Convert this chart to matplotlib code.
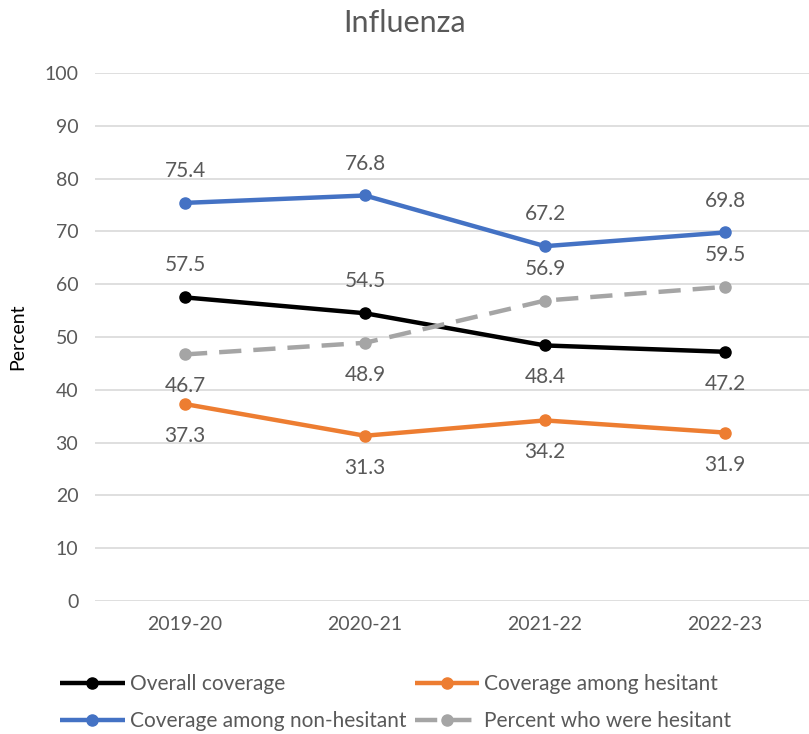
import matplotlib.pyplot as plt
import numpy as np

# Data
seasons = ["2019-20", "2020-21", "2021-22", "2022-23"]
overall = [57.5, 54.5, 48.4, 47.2]
hesitant_cov = [37.3, 31.3, 34.2, 31.9]
non_hesitant_cov = [75.4, 76.8, 67.2, 69.8]
pct_hesitant = [46.7, 48.9, 56.9, 59.5]

# label placement: +1 above, -1 below
overall_pos = [1, 1, -1, -1]
hesitant_pos = [-1, -1, -1, -1]
non_hesitant_pos = [1, 1, 1, 1]
pct_pos = [-1, -1, 1, 1]

plt.rcParams["font.family"] = ["Lato", "DejaVu Sans"]
text_color = "#595959"

fig = plt.figure(figsize=(8.09, 7.34), dpi=100)
ax = fig.add_axes([95 / 809, 133 / 734, 720 / 809, 528 / 734])

x = np.arange(len(seasons))
series = [
    (overall, overall_pos, "black", "-", "Overall coverage"),
    (hesitant_cov, hesitant_pos, "#ED7D31", "-", "Coverage among hesitant"),
    (non_hesitant_cov, non_hesitant_pos, "#4472C4", "-", "Coverage among non-hesitant"),
    (pct_hesitant, pct_pos, "#A5A5A5", (0, (5, 2.7)), "Percent who were hesitant"),
]

handles = {}
for vals, pos, color, ls, label in series:
    (h,) = ax.plot(x, vals, color=color, lw=3.2, ls=ls, marker="o", ms=8,
                   label=label, solid_capstyle="butt")
    handles[label] = h
    for xi, v, p in zip(x, vals, pos):
        ax.annotate(f"{v:.1f}", (xi, v), xytext=(0, 23 * p), textcoords="offset points",
                    ha="center", va="center", fontsize=15, color=text_color)

ax.set_xlim(-0.5, 3.5)
ax.set_ylim(0, 100)
ax.set_yticks(range(0, 101, 10))
ax.set_xticks(x)
ax.set_xticklabels(seasons)
ax.tick_params(length=0, labelsize=14, colors=text_color, pad=12)
ax.tick_params(axis="x", pad=11)
ax.grid(axis="y", color="#D9D9D9", lw=1.2)
ax.set_axisbelow(True)
for s in ax.spines.values():
    s.set_visible(False)
ax.set_ylabel("Percent", fontsize=14, color="black", labelpad=13)

fig.suptitle("Influenza", fontsize=22, color=text_color, y=0.988)

order = ["Overall coverage", "Coverage among non-hesitant",
         "Coverage among hesitant", "Percent who were hesitant"]
fig.legend([handles[k] for k in order], order, ncol=2, loc="lower left",
           bbox_to_anchor=(60 / 809, 3 / 734), borderaxespad=0, borderpad=0,
           frameon=False, fontsize=15, handlelength=3.1, handletextpad=0.25,
           columnspacing=0.4, labelspacing=0.8, labelcolor=text_color)

fig.savefig("out.png", dpi=100)
